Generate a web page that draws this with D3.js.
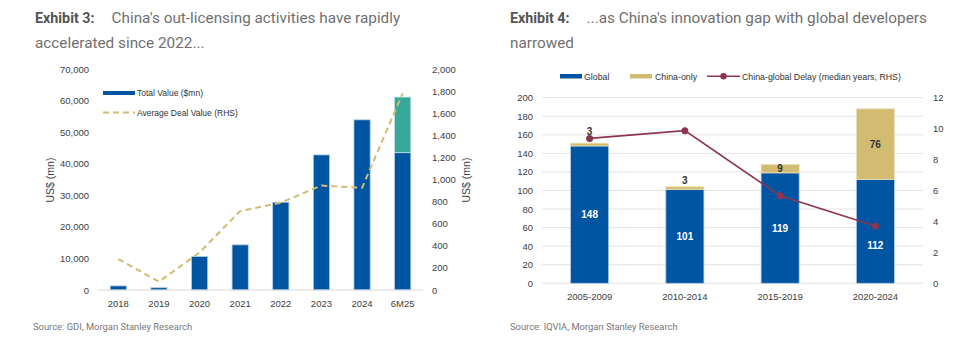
<!DOCTYPE html>
<html>
<head>
<meta charset="utf-8">
<script src="https://cdn.jsdelivr.net/npm/d3@7"></script>
<style>
  body { margin: 0; background: #fff; }
  svg { display: block; font-family: "Liberation Sans", Arial, sans-serif; }
</style>
</head>
<body>
<div id="container"></div>
<script>
// Two side-by-side exhibits: out-licensing deal values and the China/global innovation gap

const width = 960;
const height = 342;

// Exhibit 3 data
const years = ["2018", "2019", "2020", "2021", "2022", "2023", "2024", "6M25"];
const totalValue = [1300, 730, 10600, 14300, 27800, 42800, 53900, 43500];
const extraValue = [0, 0, 0, 0, 0, 0, 0, 17600];   // 6M25 upper segment
const avgDealValue = [280, 75, 340, 715, 790, 945, 925, 1780];
const leftTicks = [0, 10000, 20000, 30000, 40000, 50000, 60000, 70000];
const rhsTicks = [0, 200, 400, 600, 800, 1000, 1200, 1400, 1600, 1800, 2000];

// Exhibit 4 data
const periods = ["2005-2009", "2010-2014", "2015-2019", "2020-2024"];
const globalCount = [148, 101, 119, 112];
const chinaOnly = [3, 3, 9, 76];
const delayYears = [9.37, 9.87, 5.66, 3.7];
const countTicks = [0, 20, 40, 60, 80, 100, 120, 140, 160, 180, 200];
const delayTicks = [0, 2, 4, 6, 8, 10, 12];

const blue = "#0055a2";
const teal = "#38a89b";
const tan = "#d2bc72";
const maroon = "#8c3550";
const tickColor = "#404040";
const titleGrey = "#707070";

const svg = d3.select("#container")
    .append("svg")
    .attr("width", width)
    .attr("height", height);

function title(x, bold, lines) {
    const t = svg.append("text")
        .attr("x", x)
        .attr("y", 23)
        .style("font-family", "Roboto, 'Liberation Sans', sans-serif")
        .style("font-size", "15.3px")
        .attr("fill", titleGrey);
    t.append("tspan")
        .attr("font-weight", "bold")
        .attr("fill", "#555")
        .style("font-size", "14.3px")
        .text(bold);
    t.append("tspan")
        .attr("dx", 17)
        .text(lines[0]);
    svg.append("text")
        .attr("x", x)
        .attr("y", 48)
        .style("font-family", "Roboto, 'Liberation Sans', sans-serif")
        .style("font-size", "15.3px")
        .attr("fill", titleGrey)
        .text(lines[1]);
}

function source(x, txt) {
    svg.append("text")
        .attr("x", x)
        .attr("y", 330)
        .style("font-family", "Roboto, 'Liberation Sans', sans-serif")
        .style("font-size", "9.4px")
        .attr("fill", "#777")
        .text(txt);
}

title(35, "Exhibit 3:", ["China's out-licensing activities have rapidly", "accelerated since 2022..."]);
title(510, "Exhibit 4:", ["...as China's innovation gap with global developers", "narrowed"]);
source(33, "Source: GDI, Morgan Stanley Research");
source(510, "Source: IQVIA, Morgan Stanley Research");

// ---------- Exhibit 3 ----------
function drawLicensing() {
    const x = d3.scaleBand().domain(years).range([98, 423]).paddingInner(0.6).paddingOuter(0.3);
    const y = d3.scaleLinear().domain([0, 70000]).range([290, 69]);
    const yR = d3.scaleLinear().domain([0, 2000]).range([290, 69]);

    const g = svg.append("g");

    // left axis
    g.append("g").selectAll("text")
        .data(leftTicks)
        .join("text")
        .attr("x", 89)
        .attr("y", d => y(d) + 3.5)
        .attr("text-anchor", "end")
        .attr("font-size", 9.5)
        .attr("fill", tickColor)
        .text(d => d3.format(",")(d));

    // right axis
    g.append("g").selectAll("text")
        .data(rhsTicks)
        .join("text")
        .attr("x", 432)
        .attr("y", d => yR(d) + 3.5)
        .attr("font-size", 9.5)
        .attr("fill", tickColor)
        .text(d => d3.format(",")(d));

    g.append("text")
        .attr("transform", `translate(54,180) rotate(-90)`)
        .attr("text-anchor", "middle")
        .attr("font-size", 10.5)
        .attr("fill", tickColor)
        .text("US$ (mn)");
    g.append("text")
        .attr("transform", `translate(470,180) rotate(-90)`)
        .attr("text-anchor", "middle")
        .attr("font-size", 10.5)
        .attr("fill", tickColor)
        .text("US$ (mn)");

    // bars
    g.append("g").selectAll("rect")
        .data(years)
        .join("rect")
        .attr("x", d => x(d))
        .attr("width", x.bandwidth())
        .attr("y", (d, i) => y(totalValue[i]))
        .attr("height", (d, i) => y(0) - y(totalValue[i]))
        .attr("fill", blue)
        .attr("stroke", "#b5cfe8")
        .attr("stroke-width", 0.8);

    g.append("g").selectAll("rect")
        .data(years.filter((d, i) => extraValue[i] > 0))
        .join("rect")
        .attr("x", d => x(d))
        .attr("width", x.bandwidth())
        .attr("y", d => { const i = years.indexOf(d); return y(totalValue[i] + extraValue[i]); })
        .attr("height", d => { const i = years.indexOf(d); return y(totalValue[i]) - y(totalValue[i] + extraValue[i]); })
        .attr("fill", teal)
        .attr("stroke", "#bfe0dc")
        .attr("stroke-width", 0.8);

    // baseline
    g.append("line")
        .attr("x1", 98).attr("x2", 423)
        .attr("y1", y(0)).attr("y2", y(0))
        .attr("stroke", "#d9d9d9");

    // x labels
    g.append("g").selectAll("text")
        .data(years)
        .join("text")
        .attr("x", d => x(d) + x.bandwidth() / 2)
        .attr("y", 307)
        .attr("text-anchor", "middle")
        .attr("font-size", 9.5)
        .attr("fill", tickColor)
        .text(d => d);

    // average deal value line (dashed)
    const line = d3.line()
        .x((d, i) => x(years[i]) + x.bandwidth() / 2)
        .y(d => yR(d));

    g.append("path")
        .datum(avgDealValue)
        .attr("d", line)
        .attr("fill", "none")
        .attr("stroke", tan)
        .attr("stroke-width", 2)
        .attr("stroke-linejoin", "round")
        .attr("stroke-dasharray", "6,4");

    // legend
    const lg = g.append("g");
    lg.append("rect")
        .attr("x", 103).attr("y", 91).attr("width", 32).attr("height", 4)
        .attr("fill", blue);
    lg.append("text")
        .attr("x", 137).attr("y", 96)
        .attr("font-size", 8.5).attr("fill", "#333")
        .text("Total Value ($mn)");
    lg.append("line")
        .attr("x1", 103).attr("x2", 135)
        .attr("y1", 112.5).attr("y2", 112.5)
        .attr("stroke", tan).attr("stroke-width", 2)
        .attr("stroke-dasharray", "6,4");
    lg.append("text")
        .attr("x", 137).attr("y", 115.5)
        .attr("font-size", 8.5).attr("fill", "#333")
        .text("Average Deal Value (RHS)");
}

// ---------- Exhibit 4 ----------
function drawInnovation() {
    const x = d3.scaleBand().domain(periods).range([542, 923]).paddingInner(0.6).paddingOuter(0.3);
    const y = d3.scaleLinear().domain([0, 200]).range([283.3, 97.7]);
    const yR = d3.scaleLinear().domain([0, 12]).range([283.3, 97.7]);
    const cx = d => x(d) + x.bandwidth() / 2;

    const g = svg.append("g");

    // gridlines
    g.append("g").selectAll("line")
        .data(countTicks)
        .join("line")
        .attr("x1", 542).attr("x2", 923)
        .attr("y1", d => y(d)).attr("y2", d => y(d))
        .attr("stroke", "#e3e3e3")
        .attr("stroke-width", 1);

    g.append("g").selectAll("text")
        .data(countTicks)
        .join("text")
        .attr("x", 533)
        .attr("y", d => y(d) + 3.5)
        .attr("text-anchor", "end")
        .attr("font-size", 9.5)
        .attr("fill", tickColor)
        .text(d => d);

    g.append("g").selectAll("text")
        .data(delayTicks)
        .join("text")
        .attr("x", 933)
        .attr("y", d => yR(d) + 3.5)
        .attr("font-size", 9.5)
        .attr("fill", tickColor)
        .text(d => d);

    // stacked bars
    g.append("g").selectAll("rect")
        .data(periods)
        .join("rect")
        .attr("x", d => x(d))
        .attr("width", x.bandwidth())
        .attr("y", (d, i) => y(globalCount[i]))
        .attr("height", (d, i) => y(0) - y(globalCount[i]))
        .attr("fill", blue)
        .attr("stroke", "#b5cfe8")
        .attr("stroke-width", 0.8);

    g.append("g").selectAll("rect")
        .data(periods)
        .join("rect")
        .attr("x", d => x(d))
        .attr("width", x.bandwidth())
        .attr("y", (d, i) => y(globalCount[i] + chinaOnly[i]))
        .attr("height", (d, i) => y(globalCount[i]) - y(globalCount[i] + chinaOnly[i]))
        .attr("fill", tan)
        .attr("stroke", "#ece0b8")
        .attr("stroke-width", 0.8);

    // global labels, centred in the blue segment, nudged below the delay marker if they collide
    g.append("g").selectAll("text")
        .data(periods)
        .join("text")
        .attr("x", cx)
        .attr("y", (d, i) => {
            let c = y(globalCount[i] / 2);
            const m = yR(delayYears[i]);
            if (Math.abs(c - m) < 10) c = m + 19;
            return c + 3.5;
        })
        .attr("text-anchor", "middle")
        .attr("font-size", 10)
        .attr("font-weight", "bold")
        .attr("fill", "#fff")
        .text((d, i) => globalCount[i]);

    // china-only labels: inside when the segment fits, otherwise above the bar
    g.append("g").selectAll("text")
        .data(periods)
        .join("text")
        .attr("x", cx)
        .attr("y", (d, i) => {
            const top = y(globalCount[i] + chinaOnly[i]);
            const segH = y(globalCount[i]) - top;
            if (segH >= 7) return top + segH / 2 + 3.5;
            let c = top - 6;
            const m = yR(delayYears[i]);
            if (Math.abs(c - m) < 8) c = m - 7;
            return c + 3.5;
        })
        .attr("text-anchor", "middle")
        .attr("font-size", 10)
        .attr("font-weight", "bold")
        .attr("fill", "#333")
        .text((d, i) => chinaOnly[i]);

    // delay line
    const line = d3.line()
        .x((d, i) => cx(periods[i]))
        .y(d => yR(d));

    g.append("path")
        .datum(delayYears)
        .attr("d", line)
        .attr("fill", "none")
        .attr("stroke", maroon)
        .attr("stroke-width", 1.6);

    g.append("g").selectAll("circle")
        .data(delayYears)
        .join("circle")
        .attr("cx", (d, i) => cx(periods[i]))
        .attr("cy", d => yR(d))
        .attr("r", 3.5)
        .attr("fill", maroon);

    // x labels
    g.append("g").selectAll("text")
        .data(periods)
        .join("text")
        .attr("x", cx)
        .attr("y", 300)
        .attr("text-anchor", "middle")
        .attr("font-size", 9.5)
        .attr("fill", tickColor)
        .text(d => d);

    // legend
    const lg = g.append("g");
    lg.append("rect").attr("x", 560).attr("y", 74).attr("width", 22).attr("height", 4.5).attr("fill", blue);
    lg.append("text").attr("x", 584).attr("y", 79.5).attr("font-size", 8.8).attr("fill", "#333").text("Global");
    lg.append("rect").attr("x", 630).attr("y", 74).attr("width", 22).attr("height", 4.5).attr("fill", tan);
    lg.append("text").attr("x", 655).attr("y", 79.5).attr("font-size", 8.8).attr("fill", "#333").text("China-only");
    lg.append("line").attr("x1", 707).attr("x2", 740).attr("y1", 76.2).attr("y2", 76.2)
        .attr("stroke", maroon).attr("stroke-width", 1.6);
    lg.append("circle").attr("cx", 723.5).attr("cy", 76.2).attr("r", 3.2).attr("fill", maroon);
    lg.append("text").attr("x", 742).attr("y", 79.5).attr("font-size", 8.8).attr("fill", "#333")
        .text("China-global Delay (median years, RHS)");
}

drawLicensing();
drawInnovation();
</script>
</body>
</html>
